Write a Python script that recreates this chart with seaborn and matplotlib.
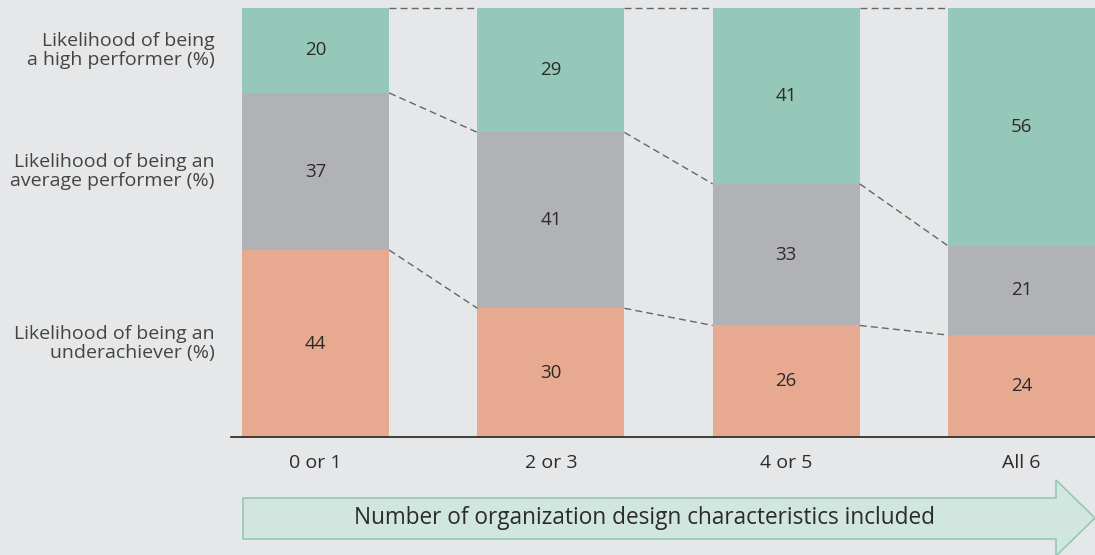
import numpy as np
import pandas as pd
import seaborn as sns
import matplotlib.pyplot as plt
from matplotlib.patches import Polygon

# data
groups = ["0 or 1", "2 or 3", "4 or 5", "All 6"]
under = [44, 30, 26, 24]
average = [37, 41, 33, 21]
high = [20, 29, 41, 56]
seg_labels = ["Likelihood of being an\nunderachiever (%)",
              "Likelihood of being an\naverage performer (%)",
              "Likelihood of being\na high performer (%)"]
colors = ["#e7aa90", "#b1b2b5", "#95c8b8"]

bg = "#e6e7e9"
txt = "#2b2b2b"

sns.set_theme(style="white")
plt.rcParams["font.family"] = ["Open Sans", "DejaVu Sans"]

# each bar fills the full height (shares)
raw = np.array([under, average, high], dtype=float)
shares = raw / raw.sum(axis=0)
bottoms = np.vstack([np.zeros(4), np.cumsum(shares, axis=0)[:-1]])

fig = plt.figure(figsize=(10.95, 5.55), dpi=100, facecolor=bg)
ax = fig.add_axes([231 / 1095, 1 - 437 / 555, 1 - 231 / 1095, (437 - 8) / 555])
ax.set_facecolor(bg)

width = 0.625
for i in range(3):
    df = pd.DataFrame({"group": groups, "share": shares[i]})
    sns.barplot(data=df, x="group", y="share", order=groups, color=colors[i],
                width=width, bottom=bottoms[i], saturation=1, ax=ax,
                edgecolor="none", linewidth=0)
    for j in range(4):
        ax.text(j, bottoms[i][j] + shares[i][j] / 2, str(int(raw[i][j])),
                ha="center", va="center", fontsize=13.5, color=txt)

# dashed connectors between segment boundaries
tops = np.vstack([bottoms[1:], np.ones(4)])
for i in range(3):
    for j in range(3):
        ax.plot([j + width / 2, j + 1 - width / 2], [tops[i][j], tops[i][j + 1]],
                ls=(0, (5, 3)), color="#666666", lw=1.0, clip_on=False)

ax.set_xlim(-0.36, 3 + width / 2)
ax.set_ylim(0, 1)
ax.set_xlabel("")
ax.set_ylabel("")
ax.set_yticks([])
ax.tick_params(axis="x", length=0, pad=12, labelsize=14, labelcolor=txt)
for s in ["top", "right", "left"]:
    ax.spines[s].set_visible(False)
ax.spines["bottom"].set_color("#222222")
ax.spines["bottom"].set_linewidth(1.2)

# series labels to the left, level with the first bar's segments
for i in range(3):
    y = bottoms[i][0] + shares[i][0] / 2
    ax.text(-0.43, y, seg_labels[i], ha="right", va="center", fontsize=14,
            color="#444444", linespacing=1.05, transform=ax.transData, clip_on=False)

# arrow along the bottom
W, H = 1095, 555
pts = [(243, 498), (1056, 498), (1056, 480), (1095, 518), (1056, 556),
       (1056, 539), (243, 539)]
pts = [(x / W, 1 - y / H) for x, y in pts]
fig.patches.append(Polygon(pts, closed=True, facecolor="#d0e6df",
                           edgecolor="#95c8b8", lw=1.2, transform=fig.transFigure))
fig.text(645 / W, 1 - 518 / H, "Number of organization design characteristics included",
         ha="center", va="center", fontsize=16.3, color=txt)

fig.savefig("out.png", dpi=100, facecolor=bg)
